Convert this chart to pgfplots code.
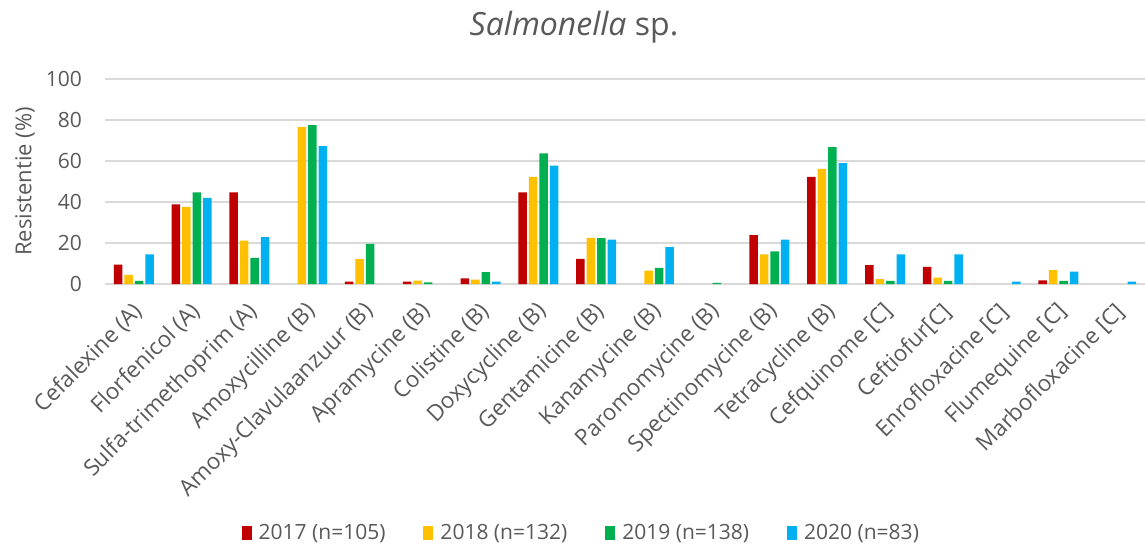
\documentclass[border=0pt]{standalone}
\usepackage{fontspec}
\setmainfont{Open Sans}
\usepackage{pgfplots}
\pgfplotsset{compat=1.18}
\definecolor{cA}{HTML}{C00000}
\definecolor{cB}{HTML}{FFC000}
\definecolor{cC}{HTML}{00B050}
\definecolor{cD}{HTML}{00B0F0}
\definecolor{txt}{HTML}{595959}
\definecolor{gridc}{HTML}{D9D9D9}
\begin{document}
\begin{tikzpicture}
\useasboundingbox (-105bp,-265bp) rectangle (1040bp,284bp);
\begin{axis}[
  scale only axis,
  width=1040bp, height=205bp,
  xmin=-0.5, xmax=17.5, ymin=0, ymax=100,
  ytick={0,20,...,100},
  xtick={0,...,17},
  xticklabels={Cefalexine (A),Florfenicol (A),Sulfa-trimethoprim (A),Amoxycilline (B),Amoxy-Clavulaanzuur (B),Apramycine (B),Colistine (B),Doxycycline (B),Gentamicine (B),Kanamycine (B),Paromomycine (B),Spectinomycine (B),Tetracycline (B),Cefquinome [C],Ceftiofur[C],Enrofloxacine [C],Flumequine [C],Marbofloxacine [C]},
  axis line style={draw=none},
  ymajorgrids, grid style={gridc, line width=1.3bp},
  major tick length=0pt,
  /pgf/number format/assume math mode=true,
  ticklabel style={font=\fontsize{21bp}{25bp}\selectfont, text=txt},
  yticklabel style={inner sep=0pt, xshift=-23bp, anchor=east},
  xticklabel style={inner sep=0pt, xshift=5bp, yshift=-24bp, rotate=45, anchor=east, font=\fontsize{22.5bp}{26bp}\selectfont},
  ylabel={Resistentie (\%)},
  every axis y label/.style={at={(rel axis cs:0,0.5)}, xshift=-80bp, rotate=90, anchor=center, font=\fontsize{22bp}{26bp}\selectfont, text=txt},
  ybar=2bp, bar width=8.5bp,
  legend columns=4,
  legend style={at={(0.458,-1.215)}, anchor=center, draw=none, font=\fontsize{21bp}{25bp}\selectfont, text=txt,
    /tikz/every even column/.append style={column sep=36bp}},
  legend image code/.code={\fill[#1] (0bp,-7bp) rectangle (10bp,7bp); \path (15bp,0bp);},
]
% zero values (no visible bar) omitted from the coordinates below
\addplot[fill=cA, draw=none] coordinates {(0,9.4)(1,38.9)(2,44.7)(4,1.1)(5,1.1)(6,2.8)(7,44.7)(8,12.3)(11,23.8)(12,52.3)(13,9.2)(14,8.4)(16,1.8)};
\addplot[fill=cB, draw=none] coordinates {(0,4.4)(1,37.6)(2,21.1)(3,76.5)(4,12.2)(5,1.6)(6,2.1)(7,52.2)(8,22.5)(9,6.5)(11,14.4)(12,56.1)(13,2.4)(14,3.1)(16,6.8)};
\addplot[fill=cC, draw=none] coordinates {(0,1.5)(1,44.7)(2,12.8)(3,77.5)(4,19.6)(5,0.8)(6,5.8)(7,63.7)(8,22.4)(9,7.9)(10,0.6)(11,15.9)(12,66.8)(13,1.5)(14,1.5)(16,1.5)};
\addplot[fill=cD, draw=none] coordinates {(0,14.4)(1,42.0)(2,22.9)(3,67.3)(6,1.1)(7,57.7)(8,21.6)(9,18.0)(11,21.6)(12,59.0)(13,14.4)(14,14.4)(15,1.1)(16,6.0)(17,1.1)};
\legend{2017 (n=105),2018 (n=132),2019 (n=138),2020 (n=83)}
\end{axis}
\node[anchor=base, text=txt, font=\fontsize{32bp}{38bp}\selectfont] at (469bp,248bp) {\textit{Salmonella} sp.};
\end{tikzpicture}
\end{document}
